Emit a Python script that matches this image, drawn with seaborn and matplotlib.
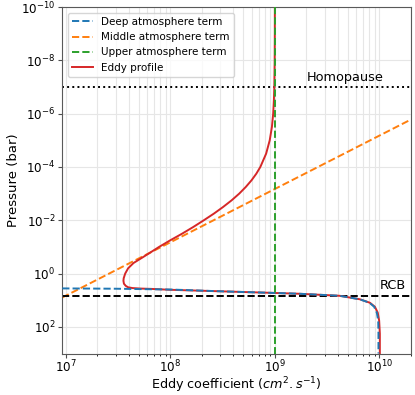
import matplotlib
matplotlib.use('Agg')
import matplotlib.pyplot as plt
import seaborn as sns
import pandas as pd

# Values
# Eddy profile (red): pressure in bar, K in cm2/s
eddy_p = [1e-10, 1e-9, 1e-8, 1e-7, 3.16e-7, 1e-6, 3.16e-6, 1e-5, 3.16e-5, 1e-4,
          1.78e-4, 3.16e-4, 5.62e-4, 1e-3, 1.78e-3, 3.16e-3, 5.62e-3, 1e-2,
          1.78e-2, 3.16e-2, 5.62e-2, 0.1, 0.158, 0.25, 0.4, 0.63, 1.0, 1.5,
          1.87, 2.4, 2.9, 3.27, 3.5, 3.65, 3.75, 4.06, 4.62, 5.26, 5.73, 6.81,
          9.2, 12.4, 17.5, 29.4, 58.5, 179, 1000]
eddy_k = [1.0e9, 9.99e8, 9.96e8, 9.88e8, 9.79e8, 9.64e8, 9.37e8, 8.93e8, 8.25e8,
          7.26e8, 6.65e8, 5.98e8, 5.27e8, 4.56e8, 3.86e8, 3.2e8, 2.61e8, 2.09e8,
          1.66e8, 1.3e8, 1.0e8, 7.8e7, 6.5e7, 5.4e7, 4.45e7, 3.95e7, 3.7e7,
          3.58e7, 3.56e7, 3.6e7, 3.75e7, 3.95e7, 4.35e7, 5.2e7, 6.5e7, 1.0e8,
          3.0e8, 8.95e8, 1.73e9, 4.16e9, 6.5e9, 8.1e9, 9.05e9, 9.65e9, 9.95e9,
          1.01e10, 1.01e10]

# Deep atmosphere term (blue)
deep_p = [3.6, 3.7, 3.85, 3.96, 4.62, 5.26, 5.73, 6.81, 9.2, 12.4, 17.5, 29.4,
          58.5, 179, 1000]
deep_k = [9.25e6, 3.0e7, 6.0e7, 1.0e8, 3.0e8, 8.95e8, 1.73e9, 4.16e9, 6.46e9,
          8.04e9, 8.9e9, 9.45e9, 9.75e9, 9.8e9, 9.8e9]

# Middle atmosphere term (orange), straight in log-log
mid_p = [7.9, 1.66e-6]
mid_k = [9.25e6, 2e10]

# Upper atmosphere term (green)
up_p = [1e-10, 1e3]
up_k = [1e9, 1e9]

p_homopause = 1e-7
p_rcb = 7.0

deep = pd.DataFrame({'K': deep_k, 'P': deep_p})
mid = pd.DataFrame({'K': mid_k, 'P': mid_p})
up = pd.DataFrame({'K': up_k, 'P': up_p})
eddy = pd.DataFrame({'K': eddy_k, 'P': eddy_p})

fig, ax = plt.subplots(figsize=(4.15, 3.95), dpi=100)

ax.plot(deep['K'], deep['P'], '--', color='C0', lw=1.4, label='Deep atmosphere term', zorder=4)
ax.plot(mid['K'], mid['P'], '--', color='C1', lw=1.4, label='Middle atmosphere term')
ax.plot(up['K'], up['P'], '--', color='C2', lw=1.4, label='Upper atmosphere term', zorder=4)
sns.lineplot(data=eddy, x='K', y='P', sort=False, estimator=None, color='C3', lw=1.4,
             label='Eddy profile', ax=ax, zorder=3)

ax.axhline(p_homopause, color='k', ls=':', lw=1.4)
ax.axhline(p_rcb, color='k', ls='--', lw=1.4)
ax.text(2e9, 8e-8, 'Homopause', fontsize=9.3, va='bottom')
ax.text(1e10, 4.8, 'RCB', fontsize=9.3, va='bottom')

ax.set_xscale('log')
ax.set_yscale('log')
ax.set_xlim(9.25e6, 2e10)
ax.set_ylim(1e3, 1e-10)
ax.grid(True, which='both', color='0.9', lw=0.8)
ax.set_xlabel('Eddy coefficient ($cm^2.s^{-1}$)', fontsize=9.2, labelpad=0)
ax.set_ylabel('Pressure (bar)', fontsize=9.5, labelpad=1)
ax.tick_params(labelsize=8.6, colors='0.3', labelcolor='k', length=3, pad=2)
ax.tick_params(axis='x', pad=1)
ax.tick_params(which='minor', length=1.5)
for s in ax.spines.values():
    s.set_color('0.35')
ax.legend(loc='upper left', fontsize=7.5, borderaxespad=0.55)

fig.subplots_adjust(left=0.15, right=0.99, top=0.982, bottom=0.105)
fig.savefig('out.png')
